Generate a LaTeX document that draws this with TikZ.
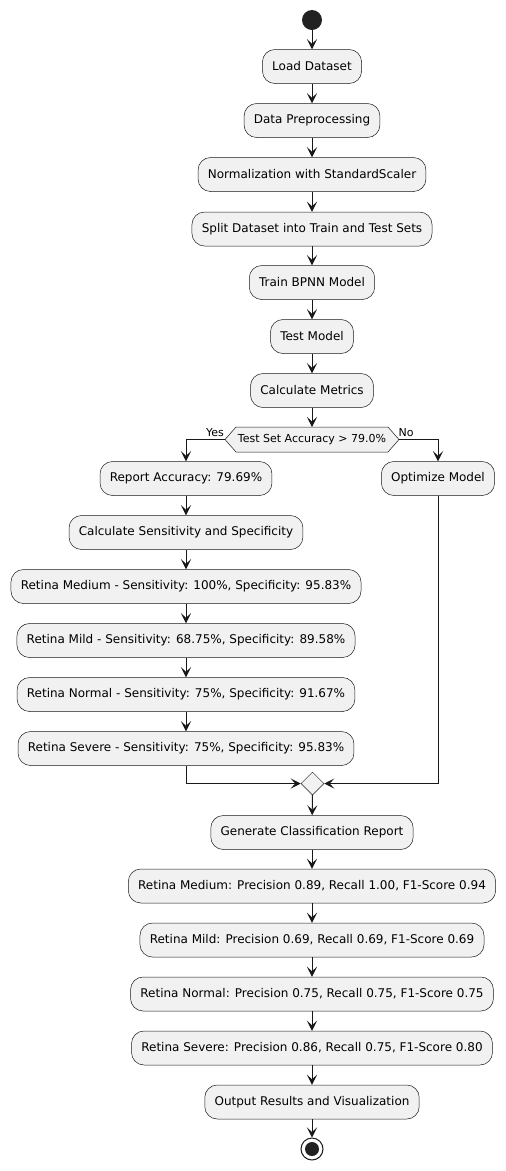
\documentclass[tikz,border=0pt]{standalone}
\usepackage{fontspec}
\setmainfont{DejaVu Sans}
\usetikzlibrary{arrows.meta,shapes.geometric,calc}
\definecolor{boxfill}{HTML}{F1F1F1}
\definecolor{ink}{HTML}{181818}
\definecolor{dot}{HTML}{222222}
\begin{document}
\begin{tikzpicture}[x=1pt,y=-1pt,
  act/.style={draw=ink,line width=0.5pt,fill=boxfill,rounded corners=12.5pt,
    minimum height=34pt,inner xsep=9.8pt,inner ysep=0pt,font=\fontsize{12}{14}\selectfont},
  flow/.style={draw=ink,line width=1pt,-{Stealth[length=10pt,width=10pt,inset=4.5pt]}},
  lbl/.style={font=\fontsize{11}{13}\selectfont,inner sep=0pt}]
\useasboundingbox (0,0) rectangle (506,1171);
% start
\node[circle,fill=dot,minimum size=20pt,inner sep=0pt] (start) at (312,20) {};
\node[act] (load) at (312,66.5) {Load Dataset};
\node[act] (prep) at (312,120.5) {Data Preprocessing};
\node[act] (norm) at (312,174.5) {Normalization with StandardScaler};
\node[act] (split) at (312,229) {Split Dataset into Train and Test Sets};
\node[act] (train) at (312,282.5) {Train BPNN Model};
\node[act] (test) at (312,336.5) {Test Model};
\node[act] (metr) at (312,390.5) {Calculate Metrics};
% decision
\coordinate (decL) at (225,439.5);
\coordinate (decR) at (399,439.5);
\filldraw[draw=ink,line width=0.5pt,fill=boxfill] (decL) -- (236,427) -- (388,427) -- (decR) -- (388,452) -- (236,452) -- cycle;
\node[lbl] (dec) at (312,439.5) {Test Set Accuracy > 79.0\%};
\node[lbl] (yes) at (215,433) {Yes};
\node[lbl] (no) at (406,433) {No};
% left branch
\node[act] (rep) at (186,478.5) {Report Accuracy: 79.69\%};
\node[act] (sens) at (186,532.5) {Calculate Sensitivity and Specificity};
\node[act] (smed) at (186,586.5) {Retina Medium - Sensitivity: 100\%, Specificity: 95.83\%};
\node[act] (smild) at (186,640.5) {Retina Mild - Sensitivity: 68.75\%, Specificity: 89.58\%};
\node[act] (snorm) at (186,694.5) {Retina Normal - Sensitivity: 75\%, Specificity: 91.67\%};
\node[act] (ssev) at (186,748.5) {Retina Severe - Sensitivity: 75\%, Specificity: 95.83\%};
% right branch
\node[act] (opt) at (438,478.5) {Optimize Model};
% merge
\node[diamond,draw=ink,line width=0.5pt,fill=boxfill,minimum width=23pt,minimum height=23pt,inner sep=0pt] (merge) at (312.5,783.5) {};
\node[act] (gen) at (312,832.5) {Generate Classification Report};
\node[act] (pmed) at (312,886) {Retina Medium: Precision 0.89, Recall 1.00, F1-Score 0.94};
\node[act] (pmild) at (312,940) {Retina Mild: Precision 0.69, Recall 0.69, F1-Score 0.69};
\node[act] (pnorm) at (312,994) {Retina Normal: Precision 0.75, Recall 0.75, F1-Score 0.75};
\node[act] (psev) at (312,1048) {Retina Severe: Precision 0.86, Recall 0.75, F1-Score 0.80};
\node[act] (out) at (312,1102) {Output Results and Visualization};
\node[circle,draw=ink,line width=1pt,fill=white,minimum size=22pt,inner sep=0pt] (stop) at (312,1149) {};
\node[circle,fill=dot,minimum size=14pt,inner sep=0pt] (stopdot) at (312,1149) {};
% connectors
\draw[flow] (start) -- (load);
\draw[flow] (load) -- (prep);
\draw[flow] (prep) -- (norm);
\draw[flow] (norm) -- (split);
\draw[flow] (split) -- (train);
\draw[flow] (train) -- (test);
\draw[flow] (test) -- (metr);
\draw[flow] (metr) -- (312,427);
\draw[flow] (decL) -| (rep.north);
\draw[flow] (decR) -| (opt.north);
\draw[flow] (rep) -- (sens);
\draw[flow] (sens) -- (smed);
\draw[flow] (smed) -- (smild);
\draw[flow] (smild) -- (snorm);
\draw[flow] (snorm) -- (ssev);
\draw[flow] (ssev.south) |- (merge.west);
\draw[flow] (opt.south) |- (merge.east);
\draw[flow] (merge) -- (gen);
\draw[flow] (gen) -- (pmed);
\draw[flow] (pmed) -- (pmild);
\draw[flow] (pmild) -- (pnorm);
\draw[flow] (pnorm) -- (psev);
\draw[flow] (psev) -- (out);
\draw[flow] (out) -- (stop);
\end{tikzpicture}
\end{document}
